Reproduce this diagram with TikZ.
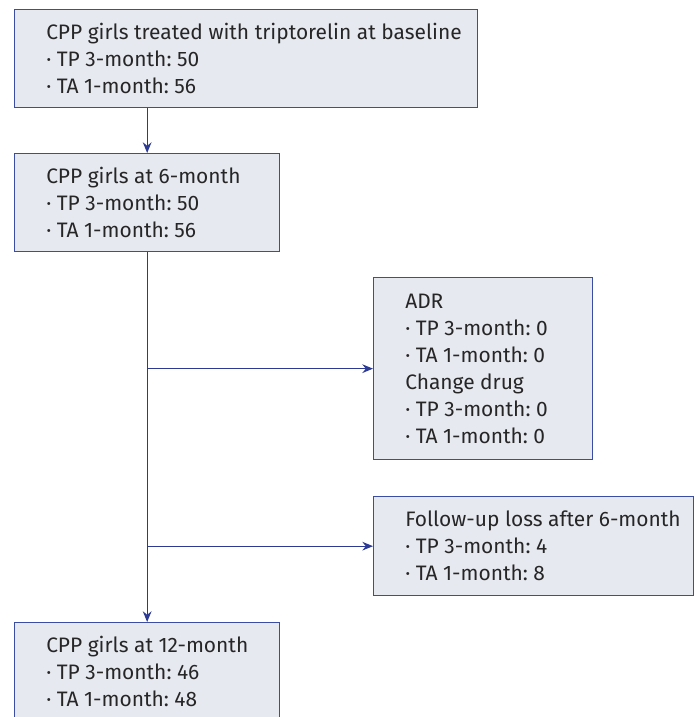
\documentclass[tikz,border=0pt]{standalone}
\usepackage{fontspec}
\setmainfont{Fira Sans}
\usepackage{xcolor}
\usetikzlibrary{positioning,calc,arrows.meta}
\definecolor{boxfill}{HTML}{E7E9F1}
\definecolor{boxline}{HTML}{3B4DA3}
\definecolor{flowline}{HTML}{2C3A93}
\definecolor{txt}{HTML}{262626}
\frenchspacing

\begin{document}
\begin{tikzpicture}[x=0.75pt, y=-0.75pt,
    stagebox/.style={draw=boxline, line width=1pt, fill=boxfill, anchor=north west, inner sep=0pt},
    stagetext/.style={anchor=west, inner sep=0pt, align=left, text=txt,
        font=\fontsize{15.7}{20.25}\selectfont},
    flow/.style={draw=flowline, line width=1pt, -{Stealth[length=8pt, width=6.5pt]}}]
        \useasboundingbox (0,0) rectangle (694,717);
        \clip (0,0) rectangle (694,717);

        % Baseline
        \node[stagebox, minimum width=347.25pt, minimum height=73.5pt] (base) at (14,9) {};
        \node[stagetext, right=24pt of base.west] (basetxt)
            {CPP girls treated with triptorelin at baseline\\ · TP 3-month: 50\\ · TA 1-month: 56};

        % 6 months
        \node[stagebox, minimum width=198.75pt, minimum height=73.5pt] (m6) at (14,153) {};
        \node[stagetext, right=24pt of m6.west] (m6txt)
            {CPP girls at 6-month\\ · TP 3-month: 50\\ · TA 1-month: 56};

        % Dropped out
        \node[stagebox, minimum width=164.25pt, minimum height=136.5pt] (adr) at (373,277) {};
        \node[stagetext, right=24pt of adr.west] (adrtxt)
            {ADR\\ · TP 3-month: 0\\ · TA 1-month: 0\\ Change drug\\ · TP 3-month: 0\\ · TA 1-month: 0};
        \node[stagebox, minimum width=240pt, minimum height=74.25pt] (loss) at (373,496) {};
        \node[stagetext, right=24pt of loss.west] (losstxt)
            {Follow-up loss after 6-month\\ · TP 3-month: 4\\ · TA 1-month: 8};

        % 12 months
        \node[stagebox, minimum width=198.75pt, minimum height=73.5pt] (m12) at (14,622) {};
        \node[stagetext, right=24pt of m12.west] (m12txt)
            {CPP girls at 12-month\\ · TP 3-month: 46\\ · TA 1-month: 48};

        \draw[flow] (m6.north |- base.south) -- (m6.north);
        \draw[flow] (m6.south) -- (m12.north);
        \draw[flow] (m6.south |- adr.west) -- (adr.west);
        \draw[flow] (m6.south |- loss.west) -- (loss.west);
    \end{tikzpicture}
\end{document}
